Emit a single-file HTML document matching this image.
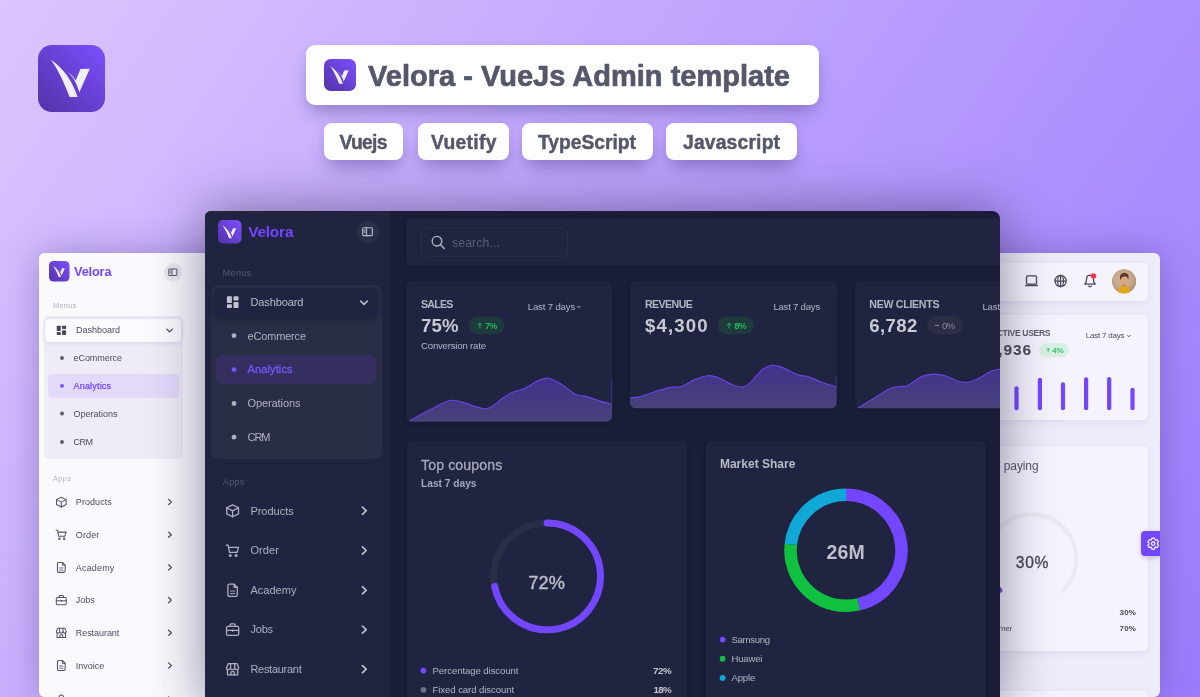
<!DOCTYPE html>
<html lang="en"><head><meta charset="utf-8"><title>Velora - VueJs Admin template</title>
<style>
html,body{margin:0;padding:0}
body{width:1200px;height:697px;overflow:hidden;position:relative;font-family:"Liberation Sans", Arial, sans-serif;
background:linear-gradient(124deg,#dbc5fe 0%,#9b7cfd 100%);}
.abs{position:absolute}
svg{position:absolute;left:0;top:0;overflow:visible}
svg text{font-family:"Liberation Sans", Arial, sans-serif;white-space:pre}
.page{position:absolute;width:1200px;height:697px}
.pill{position:absolute;background:#fff;box-shadow:0 12px 20px -5px rgba(62,46,120,.36),0 3px 9px rgba(62,46,120,.09)}
#light{position:absolute;left:39px;top:253px;width:1121px;height:443.5px;border-radius:6px;overflow:hidden;background:#eeecfa;}
#lightsh{position:absolute;left:39px;top:253px;width:1121px;height:443.5px;border-radius:6px;box-shadow:0 0 36px rgba(62,44,120,.36)}
#dark{position:absolute;left:205px;top:211px;width:794.6px;height:500px;border-radius:6px 8px 0 0;overflow:hidden;background:#1a1e38;}
#darksh{position:absolute;left:205px;top:211px;width:794.6px;height:500px;border-radius:6px 8px 0 0;box-shadow:0 0 54px rgba(36,30,66,.52)}
.dc{position:absolute;background:#202440;border-radius:6px;box-shadow:0 2px 6px rgba(8,10,30,.25)}
.lc{position:absolute;background:#f5f3fd;border-radius:5px;box-shadow:0 2px 7px rgba(90,70,150,.10)}
</style></head><body>

<div class="pill" style="left:306px;top:45px;width:513px;height:59.5px;border-radius:9px"></div>
<div class="pill" style="left:324px;top:123px;width:79px;height:36.5px;border-radius:8px"></div>
<div class="pill" style="left:418px;top:123px;width:91px;height:36.5px;border-radius:8px"></div>
<div class="pill" style="left:522px;top:123px;width:131px;height:36.5px;border-radius:8px"></div>
<div class="pill" style="left:666px;top:123px;width:131px;height:36.5px;border-radius:8px"></div>
<svg width="1200" height="697" viewBox="0 0 1200 697">
<defs>
<linearGradient id="lg1" x1="1" y1="0" x2="0" y2="1"><stop offset="0" stop-color="#7d4fff"/><stop offset="1" stop-color="#5232a6"/></linearGradient>
</defs>
<g transform="translate(38 45)">
<rect width="67" height="67" rx="14" fill="url(#lg1)"/>
<g transform="scale(0.11414) translate(-68 -60)" fill="#f1eff6">
<path d="M182 190 C 295 266 374 388 415 515 L345 515 C 302 402 248 286 182 190 Z"/>
<path d="M320 288 C 375 335 410 400 430 475 L522 268 L440 270 L398 372 C 380 340 355 312 320 288 Z"/>
</g></g>
<g transform="translate(324 59)">
<rect width="32" height="32" rx="6.5" fill="url(#lg1)"/>
<g transform="scale(0.05451) translate(-68 -60)" fill="#f1eff6">
<path d="M182 190 C 295 266 374 388 415 515 L345 515 C 302 402 248 286 182 190 Z"/>
<path d="M320 288 C 375 335 410 400 430 475 L522 268 L440 270 L398 372 C 380 340 355 312 320 288 Z"/>
</g></g>
<text x="368" y="85.7" font-size="29" font-weight="700" fill="#55576b" text-anchor="start" textLength="422" lengthAdjust="spacing" stroke="#55576b" stroke-width="0.7" stroke-linejoin="round">Velora - VueJs Admin template</text>
<text x="339.5" y="148.7" font-size="19.3" font-weight="700" fill="#55576b" text-anchor="start" textLength="48" lengthAdjust="spacing" stroke="#55576b" stroke-width="0.45" stroke-linejoin="round">Vuejs</text>
<text x="431" y="148.7" font-size="19.3" font-weight="700" fill="#55576b" text-anchor="start" textLength="65.5" lengthAdjust="spacing" stroke="#55576b" stroke-width="0.45" stroke-linejoin="round">Vuetify</text>
<text x="538" y="148.7" font-size="19.3" font-weight="700" fill="#55576b" text-anchor="start" textLength="98" lengthAdjust="spacing" stroke="#55576b" stroke-width="0.45" stroke-linejoin="round">TypeScript</text>
<text x="683" y="148.7" font-size="19.3" font-weight="700" fill="#55576b" text-anchor="start" textLength="97" lengthAdjust="spacing" stroke="#55576b" stroke-width="0.45" stroke-linejoin="round">Javascript</text>
</svg>
<div id="lightsh"></div>
<div id="light"><div class="page" style="left:-39px;top:-253px">
<div class="abs" style="left:39px;top:253px;width:172px;height:460px;background:#faf9fe"></div>
<div class="abs" style="left:44px;top:316px;width:138.5px;height:143px;border-radius:5px;background:#efecf7"></div>
<div class="abs" style="left:45px;top:318.5px;width:136px;height:23.5px;border-radius:4px;background:#fbfaff;box-shadow:0 1px 5px rgba(80,60,140,.16)"></div>
<div class="abs" style="left:48px;top:374px;width:131px;height:24px;border-radius:4px;background:#e2d9fb"></div>
<div class="abs" style="left:163.5px;top:263px;width:18.6px;height:18.6px;border-radius:50%;background:#e9e7ef"></div>
<div class="lc" style="left:900px;top:262.5px;width:247.8px;height:38.5px"></div>
<div class="lc" style="left:900px;top:314.5px;width:247.8px;height:105px"></div>
<div class="lc" style="left:900px;top:446px;width:247.8px;height:204.5px"></div>
<div class="lc" style="left:900px;top:691px;width:247.8px;height:60px"></div>
<div class="abs" style="left:1141px;top:531px;width:19px;height:25px;border-radius:4px 0 0 4px;background:#7346ff;box-shadow:0 2px 5px rgba(80,60,160,.25)"></div>
<svg width="1200" height="697" viewBox="0 0 1200 697">
<defs>
<linearGradient id="lg2" x1="1" y1="0" x2="0" y2="1"><stop offset="0" stop-color="#7d4fff"/><stop offset="1" stop-color="#5232a6"/></linearGradient>
<clipPath id="avc"><circle cx="1124.1" cy="281.3" r="12.2"/></clipPath>
<radialGradient id="avg" cx=".45" cy=".4" r=".65"><stop offset="0" stop-color="#d3b69b"/><stop offset=".6" stop-color="#c4a58a"/><stop offset="1" stop-color="#a5886f"/></radialGradient>
</defs>
<g transform="translate(49 261)">
<rect width="20.5" height="20.5" rx="4.5" fill="url(#lg2)"/>
<g transform="scale(0.03492) translate(-68 -60)" fill="#f1eff6">
<path d="M182 190 C 295 266 374 388 415 515 L345 515 C 302 402 248 286 182 190 Z"/>
<path d="M320 288 C 375 335 410 400 430 475 L522 268 L440 270 L398 372 C 380 340 355 312 320 288 Z"/>
</g></g>
<text x="74" y="276.3" font-size="12.8" font-weight="700" fill="#7346ff" text-anchor="start" textLength="37.5" lengthAdjust="spacing">Velora</text>
<g transform="translate(172.8 272.3) scale(0.72)" fill="none" stroke="#5b5870" stroke-width="1.4" stroke-linecap="round" stroke-linejoin="round"><rect x="-5.6" y="-4.6" width="11.2" height="9.2" rx="1.3"/><path d="M-1.2 -4.6 L-1.2 4.6"/><path d="M-3.8 -1.8 L-3.2 -1.8 M-3.8 0.6 L-3.2 0.6"/></g>
<text x="53" y="308.3" font-size="7.3" font-weight="400" fill="#b3b0c2" text-anchor="start" textLength="23.3" lengthAdjust="spacing">Menus</text>
<g transform="translate(61.4 330.3) scale(0.8)" fill="#4a4759" stroke="none"><rect x="-5.8" y="-5.8" width="5" height="6.6" rx="0.7"/><rect x="0.8" y="-5.8" width="5" height="4.2" rx="0.7"/><rect x="-5.8" y="2.2" width="5" height="3.6" rx="0.7"/><rect x="0.8" y="-0.2" width="5" height="6" rx="0.7"/></g>
<text x="76" y="333.4" font-size="9" font-weight="400" fill="#4f4c60" text-anchor="start" textLength="44" lengthAdjust="spacing">Dashboard</text>
<path d="M166.81 329.09 L169.60 331.88 L172.39 329.09" fill="none" stroke="#4a4759" stroke-width="1.3" stroke-linecap="round" stroke-linejoin="round"/>
<circle cx="62" cy="358" r="1.9" fill="#5b586a"/>
<text x="73.5" y="361.1" font-size="9" font-weight="400" fill="#4f4c60" text-anchor="start" textLength="48.5" lengthAdjust="spacing">eCommerce</text>
<circle cx="62" cy="385.8" r="1.9" fill="#7346ff"/>
<text x="73.5" y="388.90000000000003" font-size="9" font-weight="400" fill="#7346ff" text-anchor="start" textLength="37.5" lengthAdjust="spacing" stroke="#7346ff" stroke-width="0.25" stroke-linejoin="round">Analytics</text>
<circle cx="62" cy="413.5" r="1.9" fill="#5b586a"/>
<text x="73.5" y="416.6" font-size="9" font-weight="400" fill="#4f4c60" text-anchor="start" textLength="44" lengthAdjust="spacing">Operations</text>
<circle cx="62" cy="442" r="1.9" fill="#5b586a"/>
<text x="73.5" y="445.1" font-size="9" font-weight="400" fill="#4f4c60" text-anchor="start" textLength="19.5" lengthAdjust="spacing">CRM</text>
<text x="53" y="480.5" font-size="7.3" font-weight="400" fill="#b3b0c2" text-anchor="start" textLength="18" lengthAdjust="spacing">Apps</text>
<g transform="translate(61.3 502) scale(0.8)" fill="none" stroke="#55526a" stroke-width="1.3" stroke-linecap="round" stroke-linejoin="round"><path d="M0 -6 L6 -3 L6 3.2 L0 6.2 L-6 3.2 L-6 -3 Z"/><path d="M-6 -3 L0 0.2 L6 -3 M0 0.2 L0 6.2"/></g>
<text x="75.8" y="505.1" font-size="9" font-weight="400" fill="#4f4c60" text-anchor="start" textLength="36" lengthAdjust="spacing">Products</text>
<path d="M168.62 499.41 L171.35 502.00 L168.62 504.59" fill="none" stroke="#4a4759" stroke-width="1.25" stroke-linecap="round" stroke-linejoin="round"/>
<g transform="translate(61.3 534.7) scale(0.8)" fill="none" stroke="#55526a" stroke-width="1.3" stroke-linecap="round" stroke-linejoin="round"><path d="M-6.5 -5.5 L-4.6 -5.5 L-3.2 2 L4.4 2 L6 -3.2 L-4 -3.2"/><circle cx="-2.4" cy="5" r="0.9"/><circle cx="3.6" cy="5" r="0.9"/></g>
<text x="75.8" y="537.8000000000001" font-size="9" font-weight="400" fill="#4f4c60" text-anchor="start" textLength="23.5" lengthAdjust="spacing">Order</text>
<path d="M168.62 532.11 L171.35 534.70 L168.62 537.29" fill="none" stroke="#4a4759" stroke-width="1.25" stroke-linecap="round" stroke-linejoin="round"/>
<g transform="translate(61.3 567.4) scale(0.8)" fill="none" stroke="#55526a" stroke-width="1.3" stroke-linecap="round" stroke-linejoin="round"><path d="M1.5 -6.2 L-3.2 -6.2 Q-4.8 -6.2 -4.8 -4.6 L-4.8 4.6 Q-4.8 6.2 -3.2 6.2 L3.2 6.2 Q4.8 6.2 4.8 4.6 L4.8 -2.9 Z"/><path d="M1.5 -6.2 L1.5 -2.9 L4.8 -2.9"/><path d="M-2.2 0.7 L2.2 0.7 M-2.2 3.3 L2.2 3.3" stroke-width="1"/></g>
<text x="75.8" y="570.5" font-size="9" font-weight="400" fill="#4f4c60" text-anchor="start" textLength="38.5" lengthAdjust="spacing">Academy</text>
<path d="M168.62 564.81 L171.35 567.40 L168.62 569.99" fill="none" stroke="#4a4759" stroke-width="1.25" stroke-linecap="round" stroke-linejoin="round"/>
<g transform="translate(61.3 600.1) scale(0.8)" fill="none" stroke="#55526a" stroke-width="1.3" stroke-linecap="round" stroke-linejoin="round"><rect x="-6.2" y="-3.2" width="12.4" height="9" rx="1.4"/><path d="M-2.6 -3.2 L-2.6 -4.8 Q-2.6 -5.8 -1.6 -5.8 L1.6 -5.8 Q2.6 -5.8 2.6 -4.8 L2.6 -3.2"/><path d="M-6.2 0.8 L6.2 0.8 M0 0.2 L0 1.6"/></g>
<text x="75.8" y="603.2" font-size="9" font-weight="400" fill="#4f4c60" text-anchor="start" textLength="19" lengthAdjust="spacing">Jobs</text>
<path d="M168.62 597.51 L171.35 600.10 L168.62 602.69" fill="none" stroke="#4a4759" stroke-width="1.25" stroke-linecap="round" stroke-linejoin="round"/>
<g transform="translate(61.3 632.8) scale(0.8)" fill="none" stroke="#55526a" stroke-width="1.3" stroke-linecap="round" stroke-linejoin="round"><path d="M-5.2 0.6 L-5.2 5.8 L5.2 5.8 L5.2 0.6"/><path d="M-4.4 -5.8 L4.4 -5.8 L6.2 -1.6 Q6.2 0.4 4.2 0.4 Q2.1 0.4 2.1 -1.6 Q2.1 0.4 0 0.4 Q-2.1 0.4 -2.1 -1.6 Q-2.1 0.4 -4.2 0.4 Q-6.2 0.4 -6.2 -1.6 Z"/><path d="M-2.1 -5.8 L-2.1 -1.6 M2.1 -5.8 L2.1 -1.6"/><path d="M-1.8 5.8 L-1.8 3.4 Q-1.8 2.4 -0.8 2.4 L0.8 2.4 Q1.8 2.4 1.8 3.4 L1.8 5.8"/></g>
<text x="75.8" y="635.9" font-size="9" font-weight="400" fill="#4f4c60" text-anchor="start" textLength="43.5" lengthAdjust="spacing">Restaurant</text>
<path d="M168.62 630.21 L171.35 632.80 L168.62 635.39" fill="none" stroke="#4a4759" stroke-width="1.25" stroke-linecap="round" stroke-linejoin="round"/>
<g transform="translate(61.3 665.5) scale(0.8)" fill="none" stroke="#55526a" stroke-width="1.3" stroke-linecap="round" stroke-linejoin="round"><path d="M1.5 -6.2 L-3.2 -6.2 Q-4.8 -6.2 -4.8 -4.6 L-4.8 4.6 Q-4.8 6.2 -3.2 6.2 L3.2 6.2 Q4.8 6.2 4.8 4.6 L4.8 -2.9 Z"/><path d="M1.5 -6.2 L1.5 -2.9 L4.8 -2.9"/><path d="M-2.2 0.7 L2.2 0.7 M-2.2 3.3 L2.2 3.3" stroke-width="1"/></g>
<text x="75.8" y="668.6" font-size="9" font-weight="400" fill="#4f4c60" text-anchor="start" textLength="28.5" lengthAdjust="spacing">Invoice</text>
<path d="M168.62 662.91 L171.35 665.50 L168.62 668.09" fill="none" stroke="#4a4759" stroke-width="1.25" stroke-linecap="round" stroke-linejoin="round"/>
<g transform="translate(61.3 699.6) scale(0.8)" fill="none" stroke="#55526a" stroke-width="1.3" stroke-linecap="round" stroke-linejoin="round"><circle cx="0" cy="-3" r="2.8"/><path d="M-5 6 Q-5 1.5 0 1.5 Q5 1.5 5 6"/></g>
<text x="75.8" y="702.7" font-size="9" font-weight="400" fill="#4f4c60" text-anchor="start" textLength="20" lengthAdjust="spacing">User</text>
<path d="M168.62 697.01 L171.35 699.60 L168.62 702.19" fill="none" stroke="#4a4759" stroke-width="1.25" stroke-linecap="round" stroke-linejoin="round"/>
<g transform="translate(1031.5 281) scale(1.0)" fill="none" stroke="#4a4759" stroke-width="1.3" stroke-linecap="round" stroke-linejoin="round"><rect x="-5" y="-5.2" width="10" height="8.4" rx="1.1"/><path d="M-5.8 4.4 L5.8 4.4" stroke-width="1.5"/></g>
<g transform="translate(1060.6 281) scale(1.0)" fill="none" stroke="#4a4759" stroke-width="1.25" stroke-linecap="round" stroke-linejoin="round"><circle cx="0" cy="0" r="5.6"/><ellipse cx="0" cy="0" rx="2.9" ry="5.6"/><path d="M-5.6 0 L5.6 0 M0 -5.6 L0 5.6"/></g>
<g transform="translate(1090 280.7) scale(1.0)" fill="none" stroke="#4a4759" stroke-width="1.3" stroke-linecap="round" stroke-linejoin="round"><path d="M-5.2 3.4 Q-3.5 2 -3.5 -1.2 Q-3.5 -5.3 0 -5.5 Q3.5 -5.3 3.5 -1.2 Q3.5 2 5.2 3.4 Z"/><path d="M-1.3 5.5 Q0 6.3 1.3 5.5"/></g>
<circle cx="1093.5" cy="275.9" r="2.75" fill="#f2364d"/>
<g clip-path="url(#avc)"><circle cx="1124.1" cy="281.3" r="12.3" fill="url(#avg)"/>
<path d="M1117.6 294 Q1117.8 286.2 1121.6 285.4 L1126.6 285.4 Q1130 286.2 1130.4 294 Z" fill="#e2a61f"/>
<path d="M1122.3 283 L1125.6 283 L1125.8 286.6 Q1124 287.8 1122.1 286.6 Z" fill="#c98e68"/>
<ellipse cx="1124.2" cy="280.2" rx="3.5" ry="4.4" fill="#dba47c"/>
<path d="M1120.2 280.4 Q1119 275.2 1122 273.6 Q1124.2 272 1126.6 273.4 Q1129.6 274.2 1128.2 279.6 Q1127.6 276.8 1125.4 276.6 Q1122.4 276.4 1121.4 278 Q1120.8 279 1120.2 280.4 Z" fill="#5a3826"/>
</g>
<text x="990.8" y="335.6" font-size="8.6" font-weight="700" fill="#5f5c70" text-anchor="start" textLength="59.8" lengthAdjust="spacing">ACTIVE USERS</text>
<text x="988.7" y="355" font-size="15.5" font-weight="700" fill="#4b4858" text-anchor="start" textLength="42.4" lengthAdjust="spacing">4,936</text>
<rect x="1039" y="343.2" width="30" height="13.8" rx="6.9" fill="#d9f1e2"/>
<path d="M1048.2 351.90000000000003 L1048.2 348.3 M1046.8 349.7 L1048.2 348.3 L1049.6000000000001 349.7" fill="none" stroke="#3cc378" stroke-width="0.9" stroke-linecap="round" stroke-linejoin="round"/>
<text x="1052.3" y="353" font-size="8" font-weight="700" fill="#3cc378" text-anchor="start" textLength="11.2" lengthAdjust="spacing">4%</text>
<text x="1085.8" y="338.3" font-size="8" font-weight="400" fill="#4f4c60" text-anchor="start" textLength="38.8" lengthAdjust="spacing">Last 7 days</text>
<path d="M1127.57 335.33 L1129.00 336.76 L1130.43 335.33" fill="none" stroke="#4f4c60" stroke-width="0.95" stroke-linecap="round" stroke-linejoin="round"/>
<rect x="1014.40" y="386.2" width="4.2" height="24.1" rx="2.1" fill="#7346ff"/>
<rect x="1037.80" y="377.7" width="4.2" height="32.6" rx="2.1" fill="#7346ff"/>
<rect x="1060.90" y="382.2" width="4.2" height="28.1" rx="2.1" fill="#7346ff"/>
<rect x="1084.00" y="377.2" width="4.2" height="33.1" rx="2.1" fill="#7346ff"/>
<rect x="1107.10" y="376.9" width="4.2" height="33.4" rx="2.1" fill="#7346ff"/>
<rect x="1130.40" y="387.8" width="4.2" height="22.5" rx="2.1" fill="#7346ff"/>
<text x="950" y="469.8" font-size="12" font-weight="400" fill="#5a5770" text-anchor="start" textLength="46" lengthAdjust="spacing">Customer</text>
<text x="1003.8" y="469.8" font-size="12" font-weight="400" fill="#5a5770" text-anchor="start" textLength="34.8" lengthAdjust="spacing">paying</text>
<path d="M1000.23 590.47 A44.5 44.5 0 1 1 1063.17 590.47" fill="none" stroke="#ece9f4" stroke-width="4.3" stroke-linecap="round"/>
<path d="M1000.23 590.47 A44.5 44.5 0 0 1 995.70 532.84" fill="none" stroke="#7346ff" stroke-width="4.6" stroke-linecap="round"/>
<text x="1015.8" y="568.4" font-size="15.6" font-weight="400" fill="#4b4858" text-anchor="start" textLength="32.6" lengthAdjust="spacing" stroke="#4b4858" stroke-width="0.35" stroke-linejoin="round">30%</text>
<text x="1119.6" y="615.4" font-size="8" font-weight="700" fill="#4b4858" text-anchor="start" textLength="16.2" lengthAdjust="spacing">30%</text>
<text x="945.6" y="631.2" font-size="8" font-weight="400" fill="#4f4c60" text-anchor="start" textLength="66.5" lengthAdjust="spacing">Returning customer</text>
<text x="1119.6" y="631.2" font-size="8" font-weight="700" fill="#4b4858" text-anchor="start" textLength="16.2" lengthAdjust="spacing">70%</text>
<g transform="translate(1153.2 543.6) scale(0.92)" fill="none" stroke="#ffffff" stroke-width="1.25" stroke-linecap="round" stroke-linejoin="round"><path d="M-1.37 -5.94 L1.37 -5.94 L1.91 -4.29 L2.76 -3.80 L4.46 -4.16 L5.83 -1.78 L4.67 -0.49 L4.67 0.49 L5.83 1.78 L4.46 4.16 L2.76 3.80 L1.91 4.29 L1.37 5.94 L-1.37 5.94 L-1.91 4.29 L-2.76 3.80 L-4.46 4.16 L-5.83 1.78 L-4.67 0.49 L-4.67 -0.49 L-5.83 -1.78 L-4.46 -4.16 L-2.76 -3.80 L-1.91 -4.29 Z"/><circle cx="0" cy="0" r="1.9"/></g>
</svg>
</div></div>
<div id="darksh"></div>
<div id="dark"><div class="page" style="left:-205px;top:-211px">
<div class="abs" style="left:205px;top:211px;width:184.7px;height:500px;background:#202440"></div>
<div class="abs" style="left:210.5px;top:285px;width:171px;height:174px;border-radius:7px;background:#2a2d46"></div>
<div class="abs" style="left:213.5px;top:288px;width:164.5px;height:29.3px;border-radius:6px;background:#202440;box-shadow:0 2px 6px rgba(8,10,30,.35)"></div>
<div class="abs" style="left:216px;top:355px;width:160px;height:29px;border-radius:5px;background:#342f5e"></div>
<div class="abs" style="left:356.5px;top:220.7px;width:22px;height:22px;border-radius:50%;background:#2b2f48"></div>
<div class="dc" style="left:406px;top:218px;width:620px;height:47.8px"></div>
<div class="abs" style="left:420.5px;top:228.2px;width:145.2px;height:27px;border-radius:5px;border:1px solid #292d47;background:#202440"></div>
<div class="dc" id="c1" style="left:406px;top:281.4px;width:206.2px;height:140.3px;overflow:hidden"></div>
<div class="dc" id="c2" style="left:630px;top:281.4px;width:206.8px;height:127px"></div>
<div class="dc" id="c3" style="left:854.6px;top:281.4px;width:206.8px;height:127px"></div>
<div class="dc" style="left:406.5px;top:440.7px;width:280.5px;height:300px"></div>
<div class="dc" style="left:705.7px;top:440.7px;width:280.5px;height:300px"></div>
<svg width="1200" height="697" viewBox="0 0 1200 697">
<defs>
<linearGradient id="lg3" x1="1" y1="0" x2="0" y2="1"><stop offset="0" stop-color="#7d4fff"/><stop offset="1" stop-color="#5232a6"/></linearGradient>
<linearGradient id="ag" x1="0" y1="0" x2="0" y2="1"><stop offset="0" stop-color="#42318c"/><stop offset="1" stop-color="#474279"/></linearGradient>
<clipPath id="cc1"><rect x="406" y="281.4" width="206.2" height="140.3" rx="6"/></clipPath>
<clipPath id="cc2"><rect x="630" y="281.4" width="206.8" height="127" rx="6"/></clipPath>
<clipPath id="cc3"><rect x="854.6" y="281.4" width="206.8" height="127" rx="6"/></clipPath>
</defs>
<g transform="translate(218 220)">
<rect width="23.5" height="23.5" rx="5" fill="url(#lg3)"/>
<g transform="scale(0.04003) translate(-68 -60)" fill="#f1eff6">
<path d="M182 190 C 295 266 374 388 415 515 L345 515 C 302 402 248 286 182 190 Z"/>
<path d="M320 288 C 375 335 410 400 430 475 L522 268 L440 270 L398 372 C 380 340 355 312 320 288 Z"/>
</g></g>
<text x="248.2" y="236.8" font-size="15.3" font-weight="700" fill="#7346ff" text-anchor="start" textLength="45.2" lengthAdjust="spacing">Velora</text>
<g transform="translate(367.5 231.7) scale(0.86)" fill="none" stroke="#b9bacb" stroke-width="1.4" stroke-linecap="round" stroke-linejoin="round"><rect x="-5.6" y="-4.6" width="11.2" height="9.2" rx="1.3"/><path d="M-1.2 -4.6 L-1.2 4.6"/><path d="M-3.8 -1.8 L-3.2 -1.8 M-3.8 0.6 L-3.2 0.6"/></g>
<text x="222.7" y="275.7" font-size="9" font-weight="400" fill="#555976" text-anchor="start" textLength="28.4" lengthAdjust="spacing">Menus</text>
<g transform="translate(232.7 302.1) scale(1.0)" fill="#c3c3cf" stroke="none"><rect x="-5.8" y="-5.8" width="5" height="6.6" rx="0.7"/><rect x="0.8" y="-5.8" width="5" height="4.2" rx="0.7"/><rect x="-5.8" y="2.2" width="5" height="3.6" rx="0.7"/><rect x="0.8" y="-0.2" width="5" height="6" rx="0.7"/></g>
<text x="250.4" y="306" font-size="11" font-weight="400" fill="#bbbcca" text-anchor="start" textLength="53" lengthAdjust="spacing">Dashboard</text>
<path d="M360.60 301.00 L364.00 304.40 L367.40 301.00" fill="none" stroke="#c3c3cf" stroke-width="1.5" stroke-linecap="round" stroke-linejoin="round"/>
<circle cx="234" cy="335.7" r="2.4" fill="#b0b1c0"/>
<text x="247.5" y="339.5" font-size="11" font-weight="400" fill="#b0b1c0" text-anchor="start" textLength="58.5" lengthAdjust="spacing">eCommerce</text>
<circle cx="234" cy="369.6" r="2.4" fill="#7a55ff"/>
<text x="247.5" y="373.40000000000003" font-size="11" font-weight="400" fill="#7a55ff" text-anchor="start" textLength="45" lengthAdjust="spacing" stroke="#7a55ff" stroke-width="0.3" stroke-linejoin="round">Analytics</text>
<circle cx="234" cy="403.5" r="2.4" fill="#b0b1c0"/>
<text x="247.5" y="407.3" font-size="11" font-weight="400" fill="#b0b1c0" text-anchor="start" textLength="53" lengthAdjust="spacing">Operations</text>
<circle cx="234" cy="437.2" r="2.4" fill="#b0b1c0"/>
<text x="247.5" y="441.0" font-size="11" font-weight="400" fill="#b0b1c0" text-anchor="start" textLength="23" lengthAdjust="spacing">CRM</text>
<text x="222.8" y="484.6" font-size="9" font-weight="400" fill="#555976" text-anchor="start" textLength="21.5" lengthAdjust="spacing">Apps</text>
<g transform="translate(232.6 510.7) scale(0.98)" fill="none" stroke="#b0b1c0" stroke-width="1.3" stroke-linecap="round" stroke-linejoin="round"><path d="M0 -6 L6 -3 L6 3.2 L0 6.2 L-6 3.2 L-6 -3 Z"/><path d="M-6 -3 L0 0.2 L6 -3 M0 0.2 L0 6.2"/></g>
<text x="250.4" y="514.5" font-size="11" font-weight="400" fill="#b0b1c0" text-anchor="start" textLength="43.3" lengthAdjust="spacing">Products</text>
<path d="M362.40 507.10 L366.20 510.70 L362.40 514.30" fill="none" stroke="#c3c3cf" stroke-width="1.6" stroke-linecap="round" stroke-linejoin="round"/>
<g transform="translate(232.6 550.5) scale(0.98)" fill="none" stroke="#b0b1c0" stroke-width="1.3" stroke-linecap="round" stroke-linejoin="round"><path d="M-6.5 -5.5 L-4.6 -5.5 L-3.2 2 L4.4 2 L6 -3.2 L-4 -3.2"/><circle cx="-2.4" cy="5" r="0.9"/><circle cx="3.6" cy="5" r="0.9"/></g>
<text x="250.4" y="554.3" font-size="11" font-weight="400" fill="#b0b1c0" text-anchor="start" textLength="28.5" lengthAdjust="spacing">Order</text>
<path d="M362.40 546.90 L366.20 550.50 L362.40 554.10" fill="none" stroke="#c3c3cf" stroke-width="1.6" stroke-linecap="round" stroke-linejoin="round"/>
<g transform="translate(232.6 590.3) scale(0.98)" fill="none" stroke="#b0b1c0" stroke-width="1.3" stroke-linecap="round" stroke-linejoin="round"><path d="M1.5 -6.2 L-3.2 -6.2 Q-4.8 -6.2 -4.8 -4.6 L-4.8 4.6 Q-4.8 6.2 -3.2 6.2 L3.2 6.2 Q4.8 6.2 4.8 4.6 L4.8 -2.9 Z"/><path d="M1.5 -6.2 L1.5 -2.9 L4.8 -2.9"/><path d="M-2.2 0.7 L2.2 0.7 M-2.2 3.3 L2.2 3.3" stroke-width="1"/></g>
<text x="250.4" y="594.0999999999999" font-size="11" font-weight="400" fill="#b0b1c0" text-anchor="start" textLength="46" lengthAdjust="spacing">Academy</text>
<path d="M362.40 586.70 L366.20 590.30 L362.40 593.90" fill="none" stroke="#c3c3cf" stroke-width="1.6" stroke-linecap="round" stroke-linejoin="round"/>
<g transform="translate(232.6 629.6) scale(0.98)" fill="none" stroke="#b0b1c0" stroke-width="1.3" stroke-linecap="round" stroke-linejoin="round"><rect x="-6.2" y="-3.2" width="12.4" height="9" rx="1.4"/><path d="M-2.6 -3.2 L-2.6 -4.8 Q-2.6 -5.8 -1.6 -5.8 L1.6 -5.8 Q2.6 -5.8 2.6 -4.8 L2.6 -3.2"/><path d="M-6.2 0.8 L6.2 0.8 M0 0.2 L0 1.6"/></g>
<text x="250.4" y="633.4" font-size="11" font-weight="400" fill="#b0b1c0" text-anchor="start" textLength="22.7" lengthAdjust="spacing">Jobs</text>
<path d="M362.40 626.00 L366.20 629.60 L362.40 633.20" fill="none" stroke="#c3c3cf" stroke-width="1.6" stroke-linecap="round" stroke-linejoin="round"/>
<g transform="translate(232.6 669.2) scale(0.98)" fill="none" stroke="#b0b1c0" stroke-width="1.3" stroke-linecap="round" stroke-linejoin="round"><path d="M-5.2 0.6 L-5.2 5.8 L5.2 5.8 L5.2 0.6"/><path d="M-4.4 -5.8 L4.4 -5.8 L6.2 -1.6 Q6.2 0.4 4.2 0.4 Q2.1 0.4 2.1 -1.6 Q2.1 0.4 0 0.4 Q-2.1 0.4 -2.1 -1.6 Q-2.1 0.4 -4.2 0.4 Q-6.2 0.4 -6.2 -1.6 Z"/><path d="M-2.1 -5.8 L-2.1 -1.6 M2.1 -5.8 L2.1 -1.6"/><path d="M-1.8 5.8 L-1.8 3.4 Q-1.8 2.4 -0.8 2.4 L0.8 2.4 Q1.8 2.4 1.8 3.4 L1.8 5.8"/></g>
<text x="250.4" y="673.0" font-size="11" font-weight="400" fill="#b0b1c0" text-anchor="start" textLength="51.3" lengthAdjust="spacing">Restaurant</text>
<path d="M362.40 665.60 L366.20 669.20 L362.40 672.80" fill="none" stroke="#c3c3cf" stroke-width="1.6" stroke-linecap="round" stroke-linejoin="round"/>
<g transform="translate(232.6 709) scale(0.98)" fill="none" stroke="#b0b1c0" stroke-width="1.3" stroke-linecap="round" stroke-linejoin="round"><path d="M1.5 -6.2 L-3.2 -6.2 Q-4.8 -6.2 -4.8 -4.6 L-4.8 4.6 Q-4.8 6.2 -3.2 6.2 L3.2 6.2 Q4.8 6.2 4.8 4.6 L4.8 -2.9 Z"/><path d="M1.5 -6.2 L1.5 -2.9 L4.8 -2.9"/><path d="M-2.2 0.7 L2.2 0.7 M-2.2 3.3 L2.2 3.3" stroke-width="1"/></g>
<text x="250.4" y="712.8" font-size="11" font-weight="400" fill="#b0b1c0" text-anchor="start" textLength="35" lengthAdjust="spacing">Invoice</text>
<path d="M362.40 705.40 L366.20 709.00 L362.40 712.60" fill="none" stroke="#c3c3cf" stroke-width="1.6" stroke-linecap="round" stroke-linejoin="round"/>
<g transform="translate(438 242.2) scale(1.0)" fill="none" stroke="#b0b1c0" stroke-width="1.4" stroke-linecap="round" stroke-linejoin="round"><circle cx="-1" cy="-1" r="4.8"/><path d="M2.6 2.6 L6.2 6.2"/></g>
<text x="452" y="246.6" font-size="12.2" font-weight="400" fill="#5a5e7a" text-anchor="start" textLength="47.8" lengthAdjust="spacing">search...</text>
<text x="421" y="308" font-size="10.6" font-weight="700" fill="#b4b5c4" text-anchor="start" textLength="32.3" lengthAdjust="spacing">SALES</text>
<text x="421" y="331.5" font-size="18.6" font-weight="700" fill="#c9c9d3" text-anchor="start" textLength="37.5" lengthAdjust="spacing">75%</text>
<rect x="468.3" y="316.6" width="36" height="17.6" rx="8.8" fill="#1e3a3d"/>
<path d="M479.90000000000003 328.0 L479.90000000000003 323.20000000000005 M477.90000000000003 325.20000000000005 L479.90000000000003 323.20000000000005 L481.90000000000003 325.20000000000005" fill="none" stroke="#20b757" stroke-width="1.0" stroke-linecap="round" stroke-linejoin="round"/>
<text x="485.1" y="328.5" font-size="9.2" font-weight="700" fill="#20b757" text-anchor="start" textLength="12.4" lengthAdjust="spacing">7%</text>
<text x="527.7" y="309.6" font-size="9.6" font-weight="400" fill="#b4b5c4" text-anchor="start" textLength="47.5" lengthAdjust="spacing">Last 7 days</text>
<path d="M577.37 306.23 L578.80 307.66 L580.23 306.23" fill="none" stroke="#b4b5c4" stroke-width="1.0" stroke-linecap="round" stroke-linejoin="round"/>
<text x="421" y="348.6" font-size="9.6" font-weight="400" fill="#b4b5c4" text-anchor="start" textLength="65" lengthAdjust="spacing">Conversion rate</text>
<text x="645" y="308" font-size="10.6" font-weight="700" fill="#b4b5c4" text-anchor="start" textLength="47.8" lengthAdjust="spacing">REVENUE</text>
<text x="645" y="331.5" font-size="18.6" font-weight="700" fill="#c9c9d3" text-anchor="start" textLength="62.7" lengthAdjust="spacing">$4,300</text>
<rect x="717.5" y="316.6" width="36.4" height="17.6" rx="8.8" fill="#1e3a3d"/>
<path d="M729.1 328.0 L729.1 323.20000000000005 M727.1 325.20000000000005 L729.1 323.20000000000005 L731.1 325.20000000000005" fill="none" stroke="#20b757" stroke-width="1.0" stroke-linecap="round" stroke-linejoin="round"/>
<text x="734.3" y="328.5" font-size="9.2" font-weight="700" fill="#20b757" text-anchor="start" textLength="12.4" lengthAdjust="spacing">8%</text>
<text x="773.4" y="309.6" font-size="9.6" font-weight="400" fill="#b4b5c4" text-anchor="start" textLength="46.8" lengthAdjust="spacing">Last 7 days</text>
<text x="869.3" y="308" font-size="10.6" font-weight="700" fill="#b4b5c4" text-anchor="start" textLength="70.2" lengthAdjust="spacing">NEW CLIENTS</text>
<text x="869.3" y="331.5" font-size="18.6" font-weight="700" fill="#c9c9d3" text-anchor="start" textLength="48.1" lengthAdjust="spacing">6,782</text>
<rect x="927.1" y="316.6" width="35.8" height="17.6" rx="8.8" fill="#2b2e45"/>
<path d="M935.1 325.4 L939.1 325.4" stroke="#8b8d9f" stroke-width="1" fill="none"/>
<text x="942.1" y="329" font-size="9.6" font-weight="400" fill="#8b8d9f" text-anchor="start" textLength="13" lengthAdjust="spacing">0%</text>
<text x="982.4" y="309.6" font-size="9.6" font-weight="400" fill="#b4b5c4" text-anchor="start" textLength="47.5" lengthAdjust="spacing">Last 7 days</text>
<path d="M1032.07 306.23 L1033.50 307.66 L1034.93 306.23" fill="none" stroke="#b4b5c4" stroke-width="1.0" stroke-linecap="round" stroke-linejoin="round"/>
<g clip-path="url(#cc1)"><path d="M408.0 421.7 C411.8 419.6 423.7 412.9 431.0 409.3 C438.3 405.7 444.8 400.9 451.7 400.3 C458.6 399.7 466.3 404.1 472.3 405.5 C478.3 406.9 482.6 409.9 487.8 408.6 C493.0 407.3 499.0 400.5 503.3 397.7 C507.6 394.9 510.3 393.3 513.7 391.8 C517.2 390.3 519.7 390.6 524.0 388.7 C528.3 386.8 535.4 381.8 539.5 380.1 C543.6 378.4 545.0 377.7 548.5 378.3 C552.0 378.9 555.7 380.8 560.2 383.5 C564.7 386.2 571.4 392.2 575.7 394.3 C580.0 396.4 581.7 395.2 586.0 396.4 C590.3 397.6 597.1 400.3 601.5 401.6 C605.9 402.9 610.5 403.8 612.3 404.2 L612.3 421.7 L408.0 421.7 Z" fill="url(#ag)"/><path d="M408.0 421.7 C411.8 419.6 423.7 412.9 431.0 409.3 C438.3 405.7 444.8 400.9 451.7 400.3 C458.6 399.7 466.3 404.1 472.3 405.5 C478.3 406.9 482.6 409.9 487.8 408.6 C493.0 407.3 499.0 400.5 503.3 397.7 C507.6 394.9 510.3 393.3 513.7 391.8 C517.2 390.3 519.7 390.6 524.0 388.7 C528.3 386.8 535.4 381.8 539.5 380.1 C543.6 378.4 545.0 377.7 548.5 378.3 C552.0 378.9 555.7 380.8 560.2 383.5 C564.7 386.2 571.4 392.2 575.7 394.3 C580.0 396.4 581.7 395.2 586.0 396.4 C590.3 397.6 597.1 400.3 601.5 401.6 C605.9 402.9 610.5 403.8 612.3 404.2" fill="none" stroke="#6844e2" stroke-width="1.15"/></g>
<g clip-path="url(#cc2)"><path d="M629.7 397.8 C631.3 397.6 634.6 398.1 639.5 396.9 C644.4 395.7 653.6 392.0 659.0 390.4 C664.4 388.8 668.2 387.8 672.0 387.1 C675.8 386.5 677.9 387.8 681.7 386.5 C685.5 385.2 690.4 381.4 694.7 379.6 C699.0 377.8 703.9 376.1 707.7 375.7 C711.5 375.3 713.7 376.0 717.5 377.4 C721.3 378.8 726.4 382.3 730.5 383.9 C734.6 385.5 738.6 387.3 741.9 387.1 C745.1 386.9 746.5 385.9 750.0 382.9 C753.5 379.9 759.2 372.1 763.0 369.2 C766.8 366.3 769.5 365.6 772.7 365.3 C776.0 365.0 778.2 366.0 782.5 367.6 C786.8 369.2 794.4 373.6 798.7 375.1 C803.0 376.6 804.7 375.5 808.5 376.7 C812.3 377.9 816.8 380.5 821.5 382.2 C826.2 383.9 834.2 386.3 836.8 387.1 L836.8 408.4 L629.7 408.4 Z" fill="url(#ag)"/><path d="M629.7 397.8 C631.3 397.6 634.6 398.1 639.5 396.9 C644.4 395.7 653.6 392.0 659.0 390.4 C664.4 388.8 668.2 387.8 672.0 387.1 C675.8 386.5 677.9 387.8 681.7 386.5 C685.5 385.2 690.4 381.4 694.7 379.6 C699.0 377.8 703.9 376.1 707.7 375.7 C711.5 375.3 713.7 376.0 717.5 377.4 C721.3 378.8 726.4 382.3 730.5 383.9 C734.6 385.5 738.6 387.3 741.9 387.1 C745.1 386.9 746.5 385.9 750.0 382.9 C753.5 379.9 759.2 372.1 763.0 369.2 C766.8 366.3 769.5 365.6 772.7 365.3 C776.0 365.0 778.2 366.0 782.5 367.6 C786.8 369.2 794.4 373.6 798.7 375.1 C803.0 376.6 804.7 375.5 808.5 376.7 C812.3 377.9 816.8 380.5 821.5 382.2 C826.2 383.9 834.2 386.3 836.8 387.1" fill="none" stroke="#6844e2" stroke-width="1.15"/></g>
<g clip-path="url(#cc3)"><path d="M857.0 408.4 C859.8 406.8 868.0 401.8 873.5 398.5 C879.0 395.2 885.4 390.7 889.7 388.7 C894.0 386.7 896.5 387.0 899.5 386.5 C902.5 386.0 903.8 387.2 907.6 385.5 C911.4 383.8 917.9 378.3 922.2 376.4 C926.5 374.5 929.8 374.2 933.6 374.1 C937.4 374.0 940.9 374.5 945.0 375.7 C949.1 376.9 954.2 380.2 958.0 381.3 C961.8 382.4 964.5 382.6 967.7 382.2 C971.0 381.8 973.7 380.8 977.5 379.0 C981.3 377.2 986.8 373.1 990.5 371.5 C994.2 369.9 995.5 370.1 999.6 369.2 C1003.7 368.3 1009.9 365.5 1015.0 366.0 C1020.1 366.5 1022.3 369.7 1030.0 372.0 C1037.7 374.3 1055.8 378.7 1061.0 380.0 L1061.0 408.4 L857.0 408.4 Z" fill="url(#ag)"/><path d="M857.0 408.4 C859.8 406.8 868.0 401.8 873.5 398.5 C879.0 395.2 885.4 390.7 889.7 388.7 C894.0 386.7 896.5 387.0 899.5 386.5 C902.5 386.0 903.8 387.2 907.6 385.5 C911.4 383.8 917.9 378.3 922.2 376.4 C926.5 374.5 929.8 374.2 933.6 374.1 C937.4 374.0 940.9 374.5 945.0 375.7 C949.1 376.9 954.2 380.2 958.0 381.3 C961.8 382.4 964.5 382.6 967.7 382.2 C971.0 381.8 973.7 380.8 977.5 379.0 C981.3 377.2 986.8 373.1 990.5 371.5 C994.2 369.9 995.5 370.1 999.6 369.2 C1003.7 368.3 1009.9 365.5 1015.0 366.0 C1020.1 366.5 1022.3 369.7 1030.0 372.0 C1037.7 374.3 1055.8 378.7 1061.0 380.0" fill="none" stroke="#6844e2" stroke-width="1.15"/></g>
<path d="M611.7 379.5 L611.7 404" stroke="#3c3282" stroke-width="1.2" fill="none"/><path d="M836.3 376 L836.3 387" stroke="#3c3282" stroke-width="1.2" fill="none"/>
<text x="421" y="469.6" font-size="14.1" font-weight="400" fill="#a6a7bb" text-anchor="start" textLength="81.2" lengthAdjust="spacing" stroke="#a6a7bb" stroke-width="0.3" stroke-linejoin="round">Top coupons</text>
<text x="421" y="487.2" font-size="10.2" font-weight="700" fill="#a6a7bb" text-anchor="start" textLength="55.5" lengthAdjust="spacing">Last 7 days</text>
<circle cx="547.1" cy="576.4" r="53.4" fill="none" stroke="#292d47" stroke-width="7"/>
<path d="M547.10 523.00 A53.4 53.4 0 1 1 494.65 586.41" fill="none" stroke="#7346ff" stroke-width="7" stroke-linecap="round"/>
<text x="528.2" y="588.8" font-size="18.2" font-weight="400" fill="#bfbfcc" text-anchor="start" textLength="36.6" lengthAdjust="spacing" stroke="#bfbfcc" stroke-width="0.4" stroke-linejoin="round">72%</text>
<circle cx="423.4" cy="670.6" r="2.9" fill="#7346ff"/>
<text x="432.5" y="674" font-size="9.6" font-weight="400" fill="#b4b5c4" text-anchor="start" textLength="86" lengthAdjust="spacing">Percentage discount</text>
<text x="653" y="674" font-size="9.8" font-weight="700" fill="#c3c3cf" text-anchor="start" textLength="18.6" lengthAdjust="spacing">72%</text>
<circle cx="423.4" cy="689.8" r="2.9" fill="#6d7088"/>
<text x="432.5" y="693.2" font-size="9.6" font-weight="400" fill="#b4b5c4" text-anchor="start" textLength="81.7" lengthAdjust="spacing">Fixed card discount</text>
<text x="653.6" y="693.2" font-size="9.8" font-weight="700" fill="#c3c3cf" text-anchor="start" textLength="18" lengthAdjust="spacing">18%</text>
<text x="719.9" y="467.8" font-size="12" font-weight="700" fill="#b9bac8" text-anchor="start" textLength="75.5" lengthAdjust="spacing">Market Share</text>
<path d="M846.00 494.80 A55.5 55.5 0 0 1 858.86 604.29" fill="none" stroke="#7346ff" stroke-width="12.5"/>
<path d="M858.86 604.29 A55.5 55.5 0 0 1 790.81 544.40" fill="none" stroke="#10c140" stroke-width="12.5"/>
<path d="M790.81 544.40 A55.5 55.5 0 0 1 846.00 494.80" fill="none" stroke="#10a8d6" stroke-width="12.5"/>
<text x="826.4" y="559.2" font-size="19.5" font-weight="700" fill="#bfbfcc" text-anchor="start" textLength="38.3" lengthAdjust="spacing">26M</text>
<circle cx="722.6" cy="639.6" r="2.9" fill="#7346ff"/>
<text x="731.4" y="643.0" font-size="9.6" font-weight="400" fill="#b4b5c4" text-anchor="start" textLength="38.7" lengthAdjust="spacing">Samsung</text>
<circle cx="722.6" cy="658.7" r="2.9" fill="#10c140"/>
<text x="731.4" y="662.1" font-size="9.6" font-weight="400" fill="#b4b5c4" text-anchor="start" textLength="31" lengthAdjust="spacing">Huawei</text>
<circle cx="722.6" cy="677.9" r="2.9" fill="#10a8d6"/>
<text x="731.4" y="681.3" font-size="9.6" font-weight="400" fill="#b4b5c4" text-anchor="start" textLength="24" lengthAdjust="spacing">Apple</text>
</svg>
</div></div>
</body></html>
